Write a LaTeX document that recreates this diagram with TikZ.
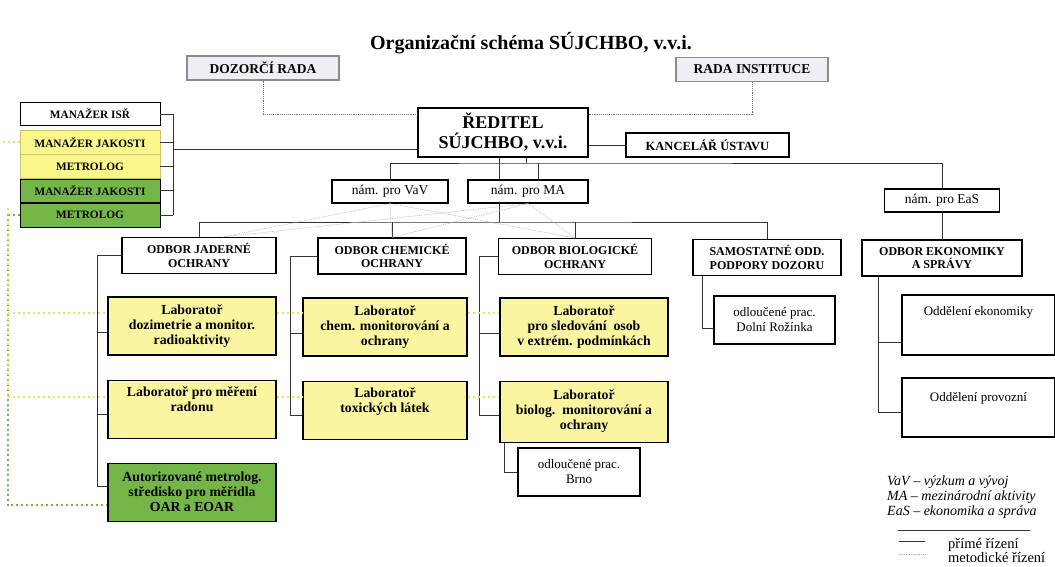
\documentclass[tikz,border=0pt]{standalone}
\usepackage{fontspec}
\setmainfont{Liberation Serif}
\usetikzlibrary{positioning}
\definecolor{labyellow}{RGB}{250,245,160}
\definecolor{panelyellow}{RGB}{250,246,138}
\definecolor{labgreen}{RGB}{116,182,72}
\definecolor{councilgray}{RGB}{238,238,244}
\definecolor{dotyellow}{RGB}{232,226,90}
\definecolor{dotgreen}{RGB}{120,180,60}

\begin{document}
\begin{tikzpicture}[x=1pt,y=-1pt,
   node distance=24pt,
   box/.style={draw,line width=1.1pt,fill=white,align=center,inner sep=0pt,
               font=\bfseries\fontsize{12.5}{14}\selectfont},
   council/.style={box,draw=black!45,fill=councilgray,minimum height=24pt,
               font=\bfseries\fontsize{13.5}{15}\selectfont},
   panel/.style={box,line width=0.8pt,minimum width=140pt,minimum height=23.5pt,
               font=\bfseries\fontsize{11.3}{13}\selectfont},
   deputy/.style={box,minimum height=23pt,font=\fontsize{13.5}{15}\selectfont},
   dept/.style={box,minimum height=36pt,font=\bfseries\fontsize{12}{13.5}\selectfont},
   lab/.style={box,fill=labyellow,minimum width=168pt,minimum height=58pt,
               font=\bfseries\fontsize{13.8}{15}\selectfont},
   sub/.style={box,minimum height=48pt,font=\fontsize{13}{15}\selectfont},
   conn/.style={draw=black!80,line width=0.9pt},
   metod/.style={draw=black!30,line width=0.7pt,densely dotted},
   councilline/.style={draw=black!55,line width=0.9pt,densely dotted},
   yellowdot/.style={draw=dotyellow,line width=2pt,dash pattern=on 2pt off 3pt},
   greendot/.style={draw=dotgreen,line width=2pt,dash pattern=on 2pt off 3pt}
 ]
  \useasboundingbox (0,0) rectangle (1055,567);

  \node[font=\bfseries\fontsize{20}{22}\selectfont] (ttl) at (531,43)
    {Organizační schéma SÚJCHBO, v.v.i.};

  % top of the scheme
  \node[council,minimum width=152pt] (dozor) at (263,68) {DOZORČÍ RADA};
  \node[council,minimum width=152pt] (rada) at (752,69.5) {RADA INSTITUCE};
  \node[box,minimum width=170pt,minimum height=49pt,
        font=\bfseries\fontsize{18}{20}\selectfont] (reditel) at (503,132.5)
    {ŘEDITEL\\SÚJCHBO, v.v.i.};
  \node[box,minimum width=163pt,minimum height=24pt] (kanc) at (707.5,145) {KANCELÁŘ ÚSTAVU};

  % managers on the left
  \node[panel] (isr) at (90,114) {MANAŽER ISŘ};
  \node[panel,fill=panelyellow,draw=panelyellow!80!black,below=4pt of isr] (jak1) {MANAŽER JAKOSTI};
  \node[panel,fill=panelyellow,draw=panelyellow!80!black,below=0pt of jak1] (met1) {METROLOG};
  \node[panel,fill=labgreen,below=0pt of met1] (jak2) {MANAŽER JAKOSTI};
  \node[panel,fill=labgreen,below=0pt of jak2] (met2) {METROLOG};

  % deputies
  \node[deputy,minimum width=116pt] (vav) at (390,191.5) {nám. pro VaV};
  \node[deputy,minimum width=120pt] (ma) at (528,191.5) {nám. pro MA};
  \node[deputy,minimum width=115pt] (eas) at (942,200.5) {nám. pro EaS};

  % departments
  \node[dept,minimum width=154pt] (jad) at (199,255.5) {ODBOR JADERNÉ\\OCHRANY};
  \node[dept,minimum width=148pt] (chem) at (392,256) {ODBOR CHEMICKÉ\\OCHRANY};
  \node[dept,minimum width=153pt] (bio) at (575,256.5) {ODBOR BIOLOGICKÉ\\OCHRANY};
  \node[dept,minimum width=148pt] (samo) at (767,257.5) {SAMOSTATNÉ ODD.\\PODPORY DOZORU};
  \node[dept,minimum width=160pt] (ekon) at (942,258) {ODBOR EKONOMIKY\\A SPRÁVY};

  % laboratories
  \node[lab] (doz) at (192,326) {Laboratoř\\dozimetrie a monitor.\\radioaktivity};
  \node[lab,below=of doz] (rad) {Laboratoř pro měření\\radonu\\\strut};
  \node[lab,fill=labgreen,below=of rad] (aut) {Autorizované metrolog.\\středisko pro měřidla\\OAR a EOAR};
  \node[lab,minimum width=164pt] (chml) at (385,327) {Laboratoř\\chem. monitorování a\\ochrany};
  \node[lab,minimum width=164pt,below=of chml] (tox) {Laboratoř\\toxických látek\\\strut};
  \node[lab] (sled) at (584,327) {Laboratoř\\pro sledování\ \ osob\\v extrém. podmínkách};
  \node[lab,minimum height=61pt,below=of sled] (biol) {Laboratoř\\biolog.\ \ monitorování a\\ochrany};
  \node[sub,minimum width=122pt] (brno) at (579,472) {odloučené prac.\\Brno};
  \node[sub,minimum width=121pt] (roz) at (774.5,320) {odloučené prac.\\Dolní Rožínka};
  \node[sub,minimum width=153pt,minimum height=60pt,text height=10pt,text depth=30pt] (oek) at (978.5,325)
    {Oddělení ekonomiky};
  \node[sub,minimum width=153pt,minimum height=59pt,text height=10pt,text depth=23pt] (oprov) at (978.5,407.5)
    {Oddělení provozní};

  % supervisory boards
  \draw[councilline] (dozor.south) |- ([yshift=18pt]reditel.west);
  \draw[councilline] (rada.south) |- ([yshift=18pt]reditel.east);
  \draw[conn] (reditel.east |- kanc.west) -- (kanc.west);

  % managers bracket
  \coordinate (brk) at (173,149);
  \foreach \n in {isr,jak1,met1,jak2,met2}
    \draw[conn] (\n.east) -- (\n.east -| brk);
  \draw[conn] (isr.east -| brk) -- (met2.east -| brk);
  \draw[conn] (brk) -- (brk -| reditel.west);

  % director to deputies
  \coordinate (bus1) at (526,163);
  \draw[conn] (reditel.south -| bus1) -- (bus1);
  \draw[conn] (vav.north) |- (bus1) -| (eas.north);
  \draw[conn] ([xshift=10pt]ma.north) -- ([xshift=10pt]ma.north |- bus1);
  \draw[conn] (eas.south) -- (ekon.north);

  % director to departments
  \coordinate (thru) at (499,222);
  \draw[conn] (reditel.south -| thru) -- (ma.north -| thru);
  \draw[conn] (ma.south -| thru) -- (thru);
  \draw[conn] (jad.north) |- (thru) -| (samo.north);
  \draw[conn] (chem.north) -- (chem.north |- thru);
  \draw[conn] (bio.north) -- (bio.north |- thru);

  % metodicke rizeni from deputies
  \foreach \d/\s in {jad/24,chem/0,bio/0} {
    \draw[metod] (vav.south) -- ([xshift=\s pt]\d.north);
    \draw[metod] (ma.south) -- ([xshift=\s pt]\d.north);
  }

  % departments to laboratories
  \coordinate (jrail) at (97,0);
  \draw[conn] (jad.west) -- (jad.west -| jrail) |- ([yshift=6pt]aut.west);
  \draw[conn] ([yshift=-6pt]doz.west) -- ([yshift=-6pt]doz.west -| jrail);
  \draw[conn] ([yshift=-5pt]rad.west) -- ([yshift=-5pt]rad.west -| jrail);
  \coordinate (crail) at (290,0);
  \draw[conn] (chem.west) -- (chem.west -| crail) |- ([yshift=-5pt]tox.west);
  \draw[conn] ([yshift=-6pt]chml.west) -- ([yshift=-6pt]chml.west -| crail);
  \coordinate (brail) at (479,0);
  \draw[conn] (bio.west) -- (bio.west -| brail) |- ([yshift=-4pt]biol.west);
  \draw[conn] ([yshift=-6pt]sled.west) -- ([yshift=-6pt]sled.west -| brail);
  \draw[conn] ([xshift=5pt]biol.south west) |- (brno.west);
  \draw[conn] ([xshift=10pt]samo.south west) |- ([yshift=-8pt]roz.west);
  \coordinate (erail) at ([xshift=17pt]ekon.south west);
  \draw[conn] (erail) |- ([yshift=-5pt]oprov.west);
  \draw[conn] ([yshift=-17pt]oek.west) -- ([yshift=-17pt]oek.west -| erail);

  % metodicke rizeni of the managers
  \coordinate (q0) at (8,208);
  \coordinate (q1) at (8,313);
  \coordinate (q2) at (8,397);
  \draw[yellowdot] (jak1.west) -- ++(-20,0);
  \draw[greendot] (met2.west) -- (met2.west -| q0) -- ([yshift=-13pt]aut.west -| q0) -- ([yshift=-13pt]aut.west);
  \draw[yellowdot] (q0) -- (q2);
  \draw[yellowdot] (q1) -- (q1 -| doz.west) (q1 -| doz.east) -- (q1 -| chml.west)
                   (q1 -| chml.east) -- (q1 -| sled.west);
  \draw[yellowdot] (q2) -- (q2 -| rad.west) (q2 -| rad.east) -- (q2 -| tox.west)
                   (q2 -| tox.east) -- (q2 -| biol.west);

  % legend
  \node[anchor=north west,align=left,inner sep=0pt,font=\itshape\fontsize{14}{15}\selectfont] (abbr) at (887,476)
    {VaV – výzkum a vývoj\\MA – mezinárodní aktivity\\EaS – ekonomika a správa};
  \coordinate (lgline) at (898,530);
  \draw[conn,line width=1pt] (lgline) -- (lgline -| {1030,0});
  \node[anchor=west,inner sep=0pt,font=\fontsize{14.5}{15}\selectfont] (lgsolid) at (948,545) {přímé řízení};
  \node[anchor=west,inner sep=0pt,font=\fontsize{14.5}{15}\selectfont] (lgdot) at (948,558) {metodické řízení};
  \draw[conn] ([xshift=-49pt,yshift=4pt]lgsolid.west) -- ([xshift=-23pt,yshift=4pt]lgsolid.west);
  \draw[metod] ([xshift=-49pt,yshift=4pt]lgdot.west) -- ([xshift=-23pt,yshift=4pt]lgdot.west);
\end{tikzpicture}
\end{document}
